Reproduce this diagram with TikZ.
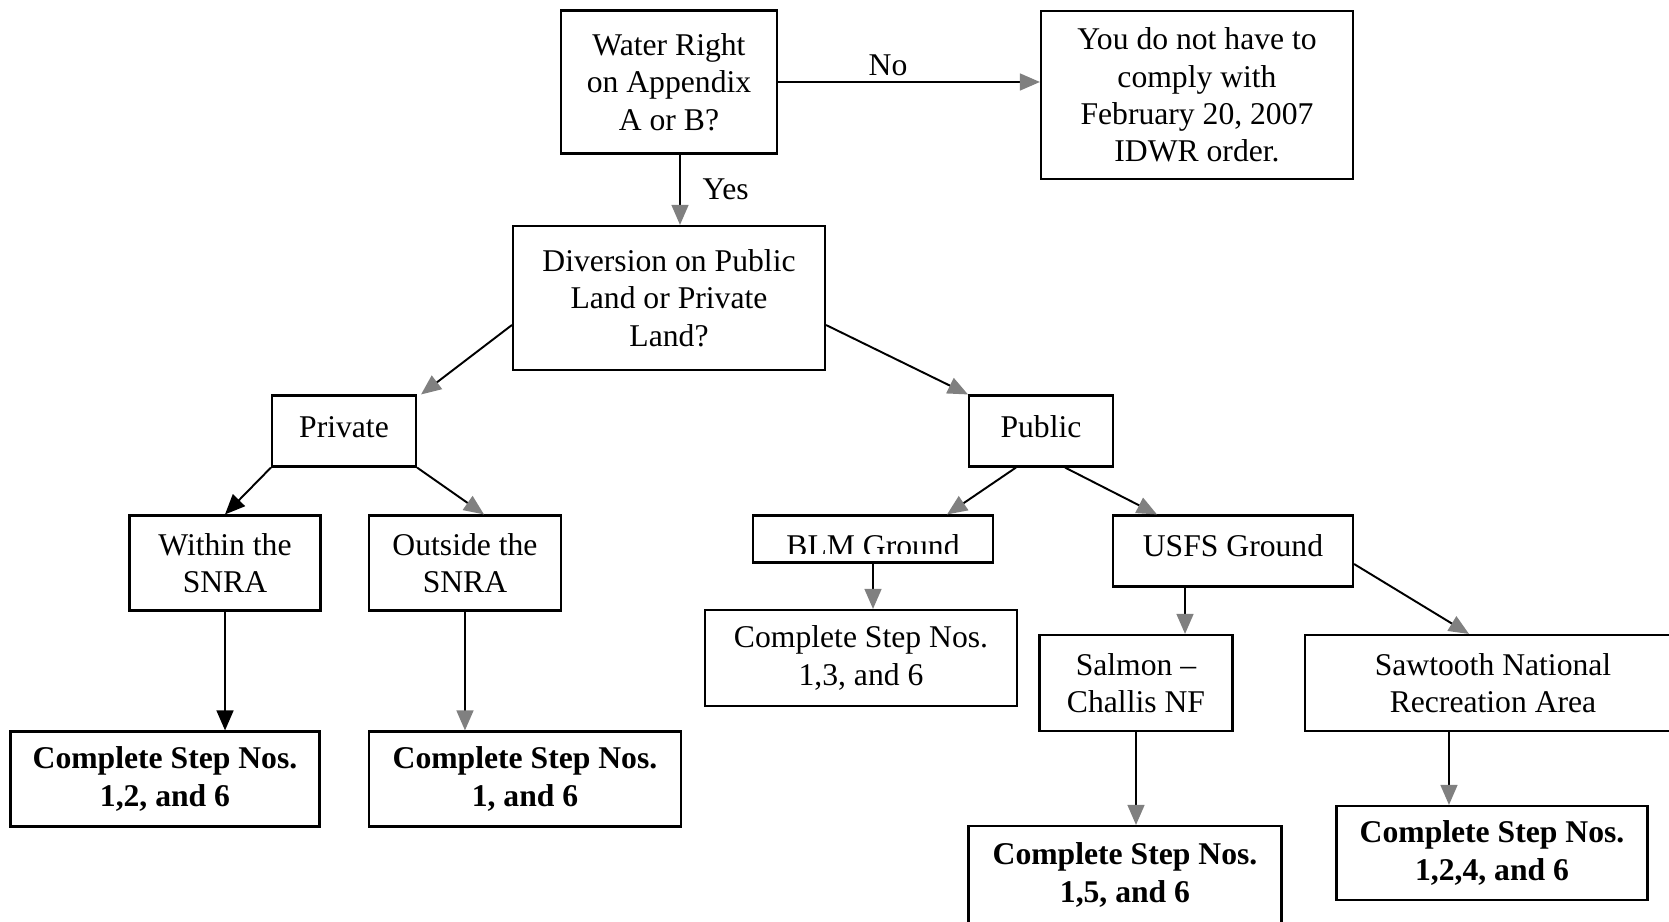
\documentclass[tikz,border=0pt]{standalone}
\usepackage{fontspec}
\setmainfont{Liberation Serif}
\usetikzlibrary{arrows.meta}

\begin{document}
\begin{tikzpicture}[x=0.01cm, y=-0.01cm,
    block/.style 2 args={draw, line width=0.6pt, minimum width=#1*0.01cm, minimum height=#2*0.01cm, inner sep=0pt, align=center, font=\fontsize{9}{10.6}\selectfont},
    outcome/.style 2 args={block={#1}{#2}, font=\fontsize{9}{10.6}\selectfont\bfseries},
    arr/.style={line width=0.55pt, -{Triangle[length=5.7pt, width=4.8pt, color=gray]}},
    arrblack/.style={line width=0.55pt, -{Triangle[length=5.7pt, width=4.8pt]}},
    lbl/.style={font=\fontsize{9}{10.6}\selectfont}
]
    \useasboundingbox (0,0) rectangle (1669,922);

    % question boxes
    \node[block={216}{143}] (water) at (669,82) {Water Right\\on Appendix\\A or B?};
    \node[block={312}{168}] (comply) at (1197,95) {You do not have to\\comply with\\February 20, 2007\\IDWR order.};
    \node[block={312}{144}] (div) at (669,298) {Diversion on Public\\Land or Private\\Land?};
    \node[block={144}{71}, text depth=0.08cm] (priv) at (344,431) {Private};
    \node[block={144}{71}, text depth=0.08cm] (pub) at (1041,431) {Public};
    \node[block={191}{95}] (within) at (225,563) {Within the\\SNRA};
    \node[block={192}{95}] (outside) at (465,563) {Outside the\\SNRA};
    \node[block={240}{47}, path picture={
        \clip ([shift={(0.06cm,-0.06cm)}]path picture bounding box.north west) rectangle ([shift={(-0.06cm,0.09cm)}]path picture bounding box.south east);
        \node[anchor=base, inner sep=0pt, font=\fontsize{9}{10.6}\selectfont] at ([yshift=0.06cm]path picture bounding box.south) {BLM Ground};
      }] (blm) at (873,539) {};
    \node[block={240}{71}, text depth=0.1cm] (usfs) at (1233,551) {USFS Ground};
    \node[block={312}{96}] (stepC) at (861,658) {Complete Step Nos.\\1,3, and 6};
    \node[block={193}{96}] (salmon) at (1136,683) {Salmon –\\Challis NF};
    \node[block={376}{96}] (saw) at (1493,683) {Sawtooth National\\Recreation Area};

    % results
    \node[outcome={309}{95}] (stepA) at (165,779) {Complete Step Nos.\\1,2, and 6};
    \node[outcome={312}{95}] (stepB) at (525,779) {Complete Step Nos.\\1, and 6};
    \node[outcome={313}{98}] (stepD) at (1125,875) {Complete Step Nos.\\1,5, and 6};
    \node[outcome={311}{94}] (stepE) at (1492,853) {Complete Step Nos.\\1,2,4, and 6};

    % connectors
    \draw[arr] (water.east) -- (water.east -| comply.west) node[pos=0.42, above, inner sep=1.5pt, lbl] {No};
    \draw[arr] ([xshift=0.11cm]water.south) -- ([xshift=0.11cm]div.north) node[midway, right=0.1cm, lbl] {Yes};
    \draw[arr] ([yshift=-0.27cm]div.west) -- ([xshift=0.04cm]priv.north east);
    \draw[arr] ([yshift=-0.27cm]div.east) -- (pub.north west);
    \draw[arrblack] (priv.south west) -- (within.north);
    \draw[arr] (priv.south east) -- ([xshift=0.19cm]outside.north);
    \draw[arrblack] (within.south) -- ([xshift=0.60cm]stepA.north);
    \draw[arr] (outside.south) -- ([xshift=-0.60cm]stepB.north);
    \draw[arr] ([xshift=0.48cm]pub.south west) -- ([xshift=0.74cm]blm.north);
    \draw[arr] ([xshift=-0.49cm]pub.south east) -- ([xshift=0.45cm]usfs.north west);
    \draw[arr] (blm.south) -- ([xshift=0.12cm]stepC.north);
    \draw[arr] ([xshift=-0.48cm]usfs.south) -- ([xshift=0.49cm]salmon.north);
    \draw[arr] ([yshift=-0.13cm]usfs.east) -- ([xshift=-0.24cm]saw.north);
    \draw[arr] (salmon.south) -- ([xshift=0.11cm]stepD.north);
    \draw[arr] ([xshift=-0.44cm]saw.south) -- ([xshift=-0.43cm]stepE.north);
\end{tikzpicture}
\end{document}
